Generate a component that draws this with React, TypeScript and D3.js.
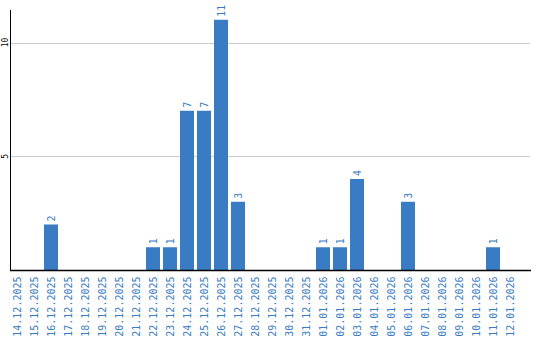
import React from "react";
import * as d3 from "d3";

const dates = [
  "14.12.2025","15.12.2025","16.12.2025","17.12.2025","18.12.2025","19.12.2025","20.12.2025",
  "21.12.2025","22.12.2025","23.12.2025","24.12.2025","25.12.2025","26.12.2025","27.12.2025",
  "28.12.2025","29.12.2025","30.12.2025","31.12.2025","01.01.2026","02.01.2026","03.01.2026",
  "04.01.2026","05.01.2026","06.01.2026","07.01.2026","08.01.2026","09.01.2026","10.01.2026",
  "11.01.2026","12.01.2026",
];
const values = [0,0,2,0,0,0,0,0,1,1,7,7,11,3,0,0,0,0,1,1,4,0,0,3,0,0,0,0,1,0];
const yTicks = [5, 10];

const W = 540, H = 340;
const BLUE = "#3a7cc3";

export default function App() {
  const x = d3.scaleBand<string>().domain(dates).range([10, 517]).paddingInner(3 / 17).paddingOuter(0);
  const y = d3.scaleLinear().domain([0, 10]).range([270, 42.5]);
  const axisX = 10.5;
  const axisRight = 531;
  return (
    <svg width={W} height={H} style={{ position: "absolute", left: 0, top: 0, background: "#fff" }}>
      {yTicks.map((t) => (
        <g key={t}>
          <line x1={axisX} x2={530} y1={Math.round(y(t)) + 0.5} y2={Math.round(y(t)) + 0.5} stroke="#cccccc" strokeWidth={1} />
          <text
            transform={`translate(5,${y(t)}) rotate(-90)`}
            textAnchor="middle"
            dy="0.35em"
            fontFamily="DejaVu Sans Mono"
            fontSize={8}
            fill="#000"
          >
            {t}
          </text>
        </g>
      ))}
      {dates.map((d, i) => {
        const v = values[i];
        const bx = x(d)!;
        const cx = bx + x.bandwidth() / 2;
        return (
          <g key={d}>
            {v > 0 && (
              <>
                <rect x={bx} y={y(v)} width={x.bandwidth()} height={y(0) - y(v)} fill={BLUE} />
                <text
                  transform={`translate(${cx},${y(v) - 3}) rotate(-90)`}
                  textAnchor="start"
                  dy="0.35em"
                  fontFamily="DejaVu Sans Mono"
                  fontSize={10}
                  fill={BLUE}
                >
                  {v}
                </text>
              </>
            )}
            <text
              transform={`translate(${cx},276.5) rotate(-90)`}
              textAnchor="end"
              dy="0.35em"
              fontFamily="DejaVu Sans Mono"
              fontSize={10}
              fill={BLUE}
            >
              {d}
            </text>
          </g>
        );
      })}
      <line x1={axisX} x2={axisX} y1={10} y2={270} stroke="#000" strokeWidth={1} />
      <line x1={10} x2={axisRight} y1={270.5} y2={270.5} stroke="#000" strokeWidth={1.5} />
    </svg>
  );
}
